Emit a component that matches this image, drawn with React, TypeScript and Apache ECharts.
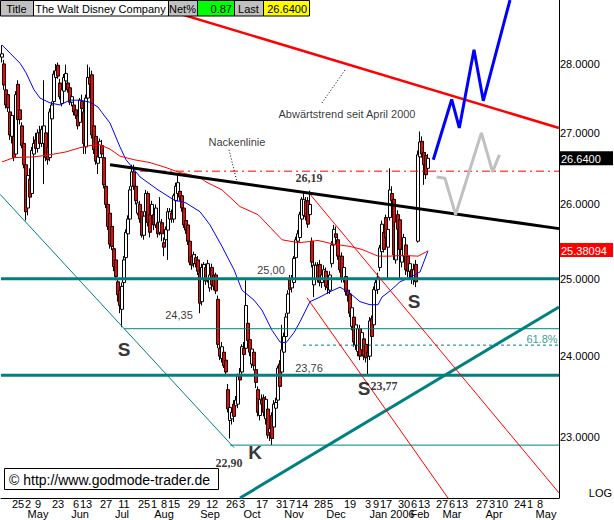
import React, { useEffect, useRef } from "react";
import * as echarts from "echarts";

const SANS = '"Liberation Sans", Arial, sans-serif';
const SERIF = '"Liberation Serif", "Times New Roman", serif';

const TITLE = "The Walt Disney Company";
const NET_PCT = "0.87";
const LAST_PRICE = 26.64;
const MA_LAST = 25.38094;

const FIRST_DAY = "2005-04-13";
const LAST_DAY = "2006-05-19";
const HOLIDAYS = ["2005-05-30", "2005-07-04", "2005-09-05", "2005-11-24", "2005-12-26", "2006-01-02", "2006-01-16", "2006-02-20", "2006-04-14"];

// [open, close, low, high]
const CANDLES: number[][] = [
  [28.10,28.15,28.02,28.28],[28.00,27.69,27.62,28.06],[27.62,27.40,27.35,27.70],[27.55,27.36,27.30,27.60],[27.30,26.97,26.90,27.36],
  [26.95,27.25,26.85,27.30],[26.95,26.65,26.60,27.05],[26.70,27.55,26.65,27.60],[27.70,27.19,27.15,27.76],[27.33,27.19,27.12,27.40],
  [27.10,26.82,26.78,27.15],[26.85,26.55,26.50,26.95],[26.55,25.90,25.78,26.62],[25.95,26.40,25.85,26.45],[26.35,26.10,26.05,26.50],
  [26.15,26.75,26.10,26.80],[26.70,26.85,26.60,26.95],[26.90,26.78,26.70,27.00],[26.78,27.00,26.72,27.05],[27.00,26.85,26.80,27.10],
  [26.85,27.05,26.80,27.10],[26.85,27.10,26.28,27.76],[27.00,26.65,26.60,27.05],[26.80,26.62,26.55,26.90],[26.65,27.30,26.60,27.35],
  [27.20,27.40,27.10,27.45],[27.45,27.85,27.40,27.90],[27.80,27.90,27.70,28.00],[27.98,27.82,27.78,28.02],[27.72,27.52,27.48,27.78],
  [27.42,27.62,27.38,27.66],[27.60,27.80,27.55,27.85],[27.75,27.86,27.70,27.99],[27.72,27.62,27.58,27.78],[27.65,27.44,27.40,27.70],
  [27.44,27.52,27.38,27.56],[27.40,27.30,27.25,27.45],[27.33,27.25,27.20,27.38],[27.25,27.10,27.05,27.30],[27.15,27.47,27.10,27.50],
  [27.45,27.35,27.30,27.55],[27.30,26.85,26.70,27.35],[26.80,27.50,26.70,27.55],[27.50,27.80,27.45,27.99],[27.80,27.70,27.60,27.95],
  [27.84,26.97,26.92,27.90],[27.10,26.76,26.70,27.15],[26.95,26.60,26.55,27.00],[26.57,26.66,26.42,26.70],[26.65,26.88,26.60,26.92],
  [26.82,26.70,26.65,26.90],[26.65,26.27,26.22,26.70],[26.25,26.00,25.95,26.30],[26.00,25.70,25.65,26.05],[25.88,25.46,25.40,25.92],
  [25.70,25.43,25.38,25.75],[25.40,25.16,25.10,25.45],[25.25,25.03,24.98,25.30],[24.96,24.79,24.70,25.00],[24.85,24.65,24.55,24.90],
  [24.60,24.90,24.37,24.95],[24.95,25.25,24.85,25.30],[25.28,25.62,25.22,25.66],[25.60,25.80,25.55,25.85],[25.80,26.20,25.75,26.25],
  [26.25,26.45,26.20,26.55],[26.45,26.25,26.20,26.55],[26.25,26.05,26.00,26.30],[25.88,26.02,25.85,26.08],[26.00,25.80,25.75,26.05],
  [25.90,25.58,25.55,25.95],[25.58,25.84,25.52,25.88],[25.90,26.15,25.80,26.20],[26.15,25.75,25.70,26.18],[25.86,25.62,25.55,25.90],
  [25.85,26.00,25.80,26.05],[25.86,25.72,25.65,25.92],[25.72,25.95,25.68,26.00],[25.75,25.60,25.55,25.80],[25.62,25.76,25.58,26.10],
  [25.75,25.60,25.50,25.80],[25.48,25.42,25.30,25.55],[25.52,25.66,25.45,25.70],[25.65,25.90,25.25,25.95],[25.80,25.90,25.75,25.95],
  [25.88,25.80,25.75,25.93],[25.80,26.12,25.75,26.15],[26.05,26.25,26.00,26.30],[26.15,26.30,26.05,26.42],[26.18,26.10,26.05,26.25],
  [26.12,25.95,25.90,26.18],[25.95,25.72,25.68,25.98],[25.78,25.65,25.60,25.85],[25.72,25.50,25.45,25.78],[25.50,25.22,25.18,25.55],
  [25.30,25.18,25.12,25.36],[25.20,25.32,25.15,25.36],[25.28,25.20,25.15,25.33],[25.25,25.10,25.05,25.30],[25.08,24.68,24.55,25.12],
  [24.70,25.15,24.65,25.20],[25.00,25.19,24.95,25.22],[25.15,24.97,24.92,25.20],[25.00,25.20,24.95,25.25],[24.88,25.05,24.83,25.10],
  [25.15,24.92,24.85,25.20],[25.05,24.90,24.85,25.10],[25.05,24.84,24.80,25.08],[24.73,24.15,24.10,24.78],[24.10,24.00,23.95,24.15],
  [23.97,24.12,23.92,24.18],[24.05,23.88,23.85,24.10],[23.95,23.80,23.75,24.00],[23.58,23.34,23.30,23.65],[23.20,23.36,22.98,23.40],
  [23.22,23.30,23.15,23.35],[23.40,23.25,23.18,23.45],[23.38,23.45,23.30,23.50],[23.40,23.75,23.35,23.78],[23.75,23.70,23.62,23.85],
  [23.80,24.12,23.75,24.15],[24.10,24.02,23.98,24.18],[24.10,24.65,24.05,24.98],[24.42,24.20,24.15,24.60],[24.21,24.05,24.00,24.25],
  [23.90,24.09,23.85,24.12],[24.05,23.88,23.82,24.08],[23.83,23.67,23.60,23.88],[23.58,23.30,23.25,23.62],[23.26,23.46,23.20,23.50],
  [23.45,23.40,23.32,23.52],[23.48,23.30,23.25,23.52],[23.22,23.46,23.15,23.50],[23.34,23.02,22.98,23.38],[23.05,23.10,22.95,23.18],
  [23.26,22.98,22.90,23.30],[23.12,23.40,23.05,23.45],[23.35,23.42,23.28,23.48],[23.45,23.85,23.40,23.88],[23.90,23.62,23.55,23.95],
  [23.80,24.08,23.75,24.40],[24.05,24.25,24.00,24.30],[24.25,24.50,24.20,24.55],[24.55,24.80,24.50,24.85],[24.99,24.86,24.80,25.05],
  [24.88,25.00,24.82,25.05],[24.95,25.27,24.90,25.30],[25.28,25.52,25.22,25.56],[25.50,25.60,25.42,25.65],[25.55,25.86,25.50,25.90],
  [25.80,26.07,25.75,26.10],[25.85,26.07,25.80,26.18],[26.05,25.83,25.78,26.10],[26.05,25.73,25.68,26.10],[25.86,26.00,25.80,26.19],
  [25.50,25.22,25.15,25.55],[24.92,25.18,24.76,25.22],[25.00,25.18,24.95,25.22],[25.18,25.00,24.95,25.22],[25.19,24.95,24.90,25.25],
  [24.95,25.05,24.88,25.10],[25.00,25.12,24.95,25.18],[25.10,24.90,24.85,25.15],[24.92,24.88,24.80,25.00],[24.85,25.05,24.80,25.10],
  [25.20,25.45,25.15,25.50],[25.45,25.66,25.40,25.72],[25.60,25.55,25.48,25.70],[25.52,25.30,25.25,25.58],[25.30,25.12,25.08,25.35],
  [25.30,25.00,24.95,25.35],[25.00,25.15,24.95,25.20],[25.03,24.83,24.78,25.08],[24.85,24.78,24.70,24.90],[24.80,24.55,24.50,24.85],
  [24.38,24.62,24.33,24.65],[24.50,24.18,24.12,24.55],[24.14,24.40,24.08,24.45],[24.06,24.35,24.00,24.40],[24.35,24.00,23.95,24.40],
  [24.08,24.30,24.02,24.35],[24.22,24.00,23.95,24.28],[24.15,23.98,23.92,24.20],[24.05,24.00,23.77,24.10],[24.00,24.45,23.95,24.50],
  [24.48,24.25,24.18,24.52],[24.40,24.86,24.35,24.90],[24.85,24.95,24.78,25.00],[24.86,25.02,24.80,25.08],[25.15,25.41,25.10,25.45],
  [25.36,25.73,25.30,25.78],[25.62,25.39,25.35,25.68],[25.82,25.55,25.50,25.86],[25.42,25.66,24.99,25.70],[25.82,26.20,25.78,26.50],
  [26.15,26.05,25.95,26.25],[26.07,25.32,25.25,26.15],[25.25,25.76,25.20,25.80],[25.86,25.66,25.60,25.92],[25.79,25.39,24.99,25.85],
  [25.22,25.39,25.15,25.45],[25.30,25.55,25.25,25.60],[25.45,25.12,25.05,25.50],[25.30,25.10,25.02,25.35],[25.10,25.20,25.00,25.28],
  [25.12,24.99,24.93,25.18],[24.99,25.12,24.92,25.20],[25.19,24.96,24.89,25.25],[25.50,26.69,25.48,26.75],[26.66,26.87,26.60,27.02],
  [26.88,26.70,26.65,26.95],[26.72,26.55,26.27,26.78],[26.68,26.41,26.35,26.72],[26.50,26.64,26.45,26.70],
];

// moving averages: [trading-day index, price]
const BLUE_MA: number[][] = [
  [0,28.28],[4,28.16],[9,28.01],[12,27.87],[16,27.62],[19,27.50],[24,27.43],[29,27.40],[34,27.47],[39,27.47],[44,27.44],[48,27.37],
  [50,27.29],[54,27.14],[59,26.80],[62,26.62],[69,26.38],[78,26.20],[86,26.06],[92,26.02],[99,25.90],[104,25.72],[110,25.43],
  [116,25.12],[120,24.85],[126,24.72],[130,24.59],[135,24.33],[139,24.18],[142,24.17],[146,24.30],[149,24.44],[154,24.70],
  [159,24.76],[164,24.83],[169,24.89],[174,24.81],[179,24.70],[184,24.66],[188,24.66],[190,24.76],[194,24.84],[199,24.96],
  [204,25.02],[209,25.09],[213,25.37],
];
const RED_MA: number[][] = [
  [0,26.59],[6,26.65],[16,26.66],[24,26.69],[32,26.73],[39,26.79],[44,26.82],[49,26.83],[54,26.77],[59,26.67],[66,26.62],
  [74,26.58],[82,26.51],[89,26.44],[94,26.41],[99,26.37],[102,26.31],[110,26.20],[119,25.97],[128,25.86],[134,25.69],
  [140,25.52],[148,25.48],[152,25.49],[158,25.51],[166,25.46],[174,25.43],[180,25.39],[188,25.30],[194,25.30],[200,25.31],
  [208,25.30],[213,25.37],
];

// drawn trend lines: [trading-day index, price]
const DOWNTREND_2000 = [[66, 28.96], [278.5, 27.07]];
const NECKLINE = [[54, 26.55], [278.5, 25.67]];
const RISING_SUPPORT = [[119, 22.27], [278.5, 24.63]];
const TEAL_CHANNEL = [[-1, 26.14], [116, 22.87]];
const RED_CHANNEL_UPPER = [[154, 26.14], [278.5, 22.33]];
const RED_CHANNEL_LOWER = [[152.5, 24.75], [223, 22.27]];
const BLUE_SCENARIO = [[215.65, 26.62], [224.85, 27.48], [228.65, 27.07], [236, 28.21], [240.65, 27.46], [254, 28.96]];
const GRAY_SCENARIO = [[217.3, 26.38], [221.5, 26.36], [226.8, 25.86], [239.7, 27.0], [245.3, 26.45], [248.7, 26.69]];
const LEADER_NECK = [[113.5, 26.76], [117.5, 26.31]];
const LEADER_TREND = [[160, 27.43], [171.5, 27.91]];
// horizontal levels: price, start index, width, dashed
const LEVEL_PRICES = [25.0, 23.76, 24.35, 22.9, 24.14];
const LEVEL_STARTS = [-0.5, -0.5, 61, 114, 150.5];
const LEVEL_WIDTHS = [3, 3, 1, 1, 1];
const LEVEL_DASHED = [false, false, false, false, true];
const LAST_REF_LEVEL = 26.46;
const LAST_REF_START = 69;

const DAY_LABELS = [
  "2005-04-25","2005-05-02","2005-05-09","2005-05-23","2005-06-06","2005-06-13","2005-06-27","2005-07-11","2005-07-25",
  "2005-08-01","2005-08-08","2005-08-15","2005-08-29","2005-09-12","2005-09-26","2005-10-03","2005-10-17","2005-10-31",
  "2005-11-07","2005-11-14","2005-11-28","2005-12-05","2005-12-19","2006-01-03","2006-01-09","2006-01-17","2006-01-30",
  "2006-02-06","2006-02-13","2006-02-27","2006-03-06","2006-03-13","2006-03-27","2006-04-03","2006-04-10","2006-04-24",
  "2006-05-01","2006-05-08",
];
const MONTH_DATES = ["2005-05-09","2005-06-08","2005-07-08","2005-08-08","2005-09-09","2005-10-10","2005-11-08","2005-12-08","2006-02-09","2006-01-20","2006-03-06","2006-04-04","2006-05-11"];
const MONTH_NAMES = ["May","Jun","Jul","Aug","Sep","Oct","Nov","Dec","Feb","Jan 2006","Mar","Apr","May"];

const PRICE_TICKS = [23, 24, 25, 26, 27, 28];
const PRICE_MIN = 22.27;
const PRICE_MAX = 28.96;

const ANN_TEXT = ["Nackenlinie","Abwärtstrend seit April 2000","26,19","25,00","24,35","23,76","22,90","23,77","S","K","S","S","61.8%"];
const ANN_POS = [[117.5,26.87],[172.5,27.27],[153.5,26.37],[134.5,25.11],[88.5,24.53],[153.5,23.85],[113.5,22.69],[191,23.62],[61,24.09],[126.5,22.81],[181,23.6],[206,24.7],[270,24.22]];
const ANN_KIND = ["n","n","b","n","n","n","b","b","L","L","L","L","t"];

function buildDays(): string[] {
  const out: string[] = [];
  const d = new Date(FIRST_DAY + "T00:00:00Z");
  const end = new Date(LAST_DAY + "T00:00:00Z");
  while (d.getTime() <= end.getTime()) {
    const wd = d.getUTCDay();
    const s = d.toISOString().slice(0, 10);
    if (wd !== 0 && wd !== 6 && HOLIDAYS.indexOf(s) < 0) out.push(s);
    d.setUTCDate(d.getUTCDate() + 1);
  }
  return out;
}

export default function App() {
  const ref = useRef<HTMLDivElement>(null);
  useEffect(() => {
    document.body.style.margin = "0";
    if (!ref.current) return;
    const chart = echarts.init(ref.current, null, { renderer: "svg" });
    const days = buildDays();
    const xMax = days.length - 0.5;
    const daySet = new Set(DAY_LABELS);
    const monthMap = new Map<string, string>();
    MONTH_DATES.forEach((d, i) => monthMap.set(d, MONTH_NAMES[i]));
    const L = Math.log;
    const toLn = (pts: number[][]) => pts.map((p) => [p[0], L(p[1])]);
    const line = (pts: number[][], color: string, width: number, type: any = "solid", z = 4) => ({
      type: "line", xAxisIndex: 2, yAxisIndex: 0, data: toLn(pts), symbol: "none", silent: true, z,
      lineStyle: { color, width, type }, animation: false,
    });
    const series: any[] = [
      {
        type: "candlestick", xAxisIndex: 0, yAxisIndex: 0, z: 2, silent: true, barWidth: 4,
        data: CANDLES.map((c) => [L(c[0]), L(c[1]), L(c[2]), L(c[3])]),
        itemStyle: { color: "#ffffff", color0: "#ff0000", borderColor: "#000000", borderColor0: "#000000", borderWidth: 1 },
      },
      line(BLUE_MA, "#0000ff", 1, "solid", 3),
      line(RED_MA, "#ff0000", 1, "solid", 3),
    ];
    LEVEL_PRICES.forEach((p, i) => {
      series.push(line([[LEVEL_STARTS[i], p], [xMax, p]], "#008080", LEVEL_WIDTHS[i], LEVEL_DASHED[i] ? [3, 3] : "solid"));
    });
    series.push(line([[LAST_REF_START, LAST_REF_LEVEL], [xMax, LAST_REF_LEVEL]], "#ff0000", 1, [8, 4, 2, 4]));
    series.push(line(TEAL_CHANNEL, "#008080", 1));
    series.push(line(RISING_SUPPORT, "#008080", 3));
    series.push(line(RED_CHANNEL_UPPER, "#ff0000", 1));
    series.push(line(RED_CHANNEL_LOWER, "#ff0000", 1));
    series.push(line(NECKLINE, "#000000", 3));
    series.push(line(DOWNTREND_2000, "#ff0000", 2.5));
    series.push(line(GRAY_SCENARIO, "#c0c0c0", 3));
    series.push(line(BLUE_SCENARIO, "#0000ff", 3));
    series.push(line(LEADER_NECK, "#000000", 1, [1, 2]));
    series.push(line(LEADER_TREND, "#000000", 1, [1, 2]));
    series.push({
      type: "scatter", xAxisIndex: 2, yAxisIndex: 0, z: 6, silent: true, symbolSize: 1,
      itemStyle: { color: "rgba(0,0,0,0)" },
      label: { show: true, position: "inside" },
      data: ANN_TEXT.map((t, i) => {
        const k = ANN_KIND[i];
        const style: any =
          k === "L" ? { fontSize: 19, fontWeight: "bold", fontFamily: SANS, color: "#000" }
          : k === "b" ? { fontSize: 12, fontWeight: "bold", fontFamily: SERIF, color: "#000" }
          : k === "t" ? { fontSize: 11, fontFamily: SANS, color: "#008080" }
          : { fontSize: 11, fontFamily: SANS, color: "#000" };
        return { value: [ANN_POS[i][0], L(ANN_POS[i][1])], label: { show: true, position: "inside", formatter: t, ...style } };
      }),
    });

    const headerCells = [
      { x0: 0, x1: 33, fill: "#c0c0c0", text: "Title", right: false },
      { x0: 33, x1: 168, fill: "#ffffff", text: TITLE, right: false },
      { x0: 168, x1: 197, fill: "#c0c0c0", text: "Net%", right: false },
      { x0: 197, x1: 234, fill: "#00ff00", text: NET_PCT, right: true },
      { x0: 234, x1: 263, fill: "#c0c0c0", text: "Last", right: false },
      { x0: 263, x1: 309, fill: "#ffff00", text: LAST_PRICE.toFixed(4), right: true },
    ];
    const graphic: any[] = [];
    headerCells.forEach((c) => {
      graphic.push({ type: "rect", z: 100, shape: { x: c.x0 + 0.5, y: 0.5, width: c.x1 - c.x0, height: 15.5 }, style: { fill: c.fill, stroke: "#000", lineWidth: 1 } });
      graphic.push({ type: "text", z: 101, style: { text: c.text, x: c.right ? c.x1 - 2 : (c.x0 + c.x1) / 2, y: 8.5, align: c.right ? "right" : "center", textAlign: c.right ? "right" : "center", verticalAlign: "middle", textVerticalAlign: "middle", fontSize: 11, fontFamily: SANS, fill: "#000" } });
    });
    graphic.push({ type: "rect", z: 100, shape: { x: 4.5, y: 468.5, width: 214, height: 21 }, style: { fill: "#fff", stroke: "#000", lineWidth: 1 } });
    graphic.push({ type: "text", z: 101, style: { text: "© http://www.godmode-trader.de", x: 9, y: 479.5, align: "left", textAlign: "left", verticalAlign: "middle", textVerticalAlign: "middle", fontSize: 14, fontFamily: SANS, fill: "#000" } });
    graphic.push({ type: "text", z: 101, style: { text: "LOG", x: 612, y: 493, align: "right", textAlign: "right", verticalAlign: "middle", textVerticalAlign: "middle", fontSize: 11, fontFamily: SANS, fill: "#000" } });

    const option: any = {
      animation: false,
      backgroundColor: "#ffffff",
      grid: { left: 1, right: 55, top: 0, bottom: 22, containLabel: false, outerBoundsMode: "none" },
      xAxis: [
        {
          type: "category", gridIndex: 0, data: days, position: "bottom", boundaryGap: true,
          axisLine: { show: true, onZero: false, lineStyle: { color: "#000", width: 1 } },
          axisTick: { show: false }, splitLine: { show: false },
          axisLabel: {
            interval: (_i: number, v: string) => daySet.has(v),
            formatter: (v: string) => String(Number(v.slice(8))),
            color: "#000", fontSize: 11, lineHeight: 10, fontFamily: SANS, margin: 1, hideOverlap: false,
          },
        },
        {
          type: "category", gridIndex: 0, data: days, position: "bottom", boundaryGap: true,
          axisLine: { show: false, onZero: false }, axisTick: { show: false }, splitLine: { show: false },
          axisLabel: {
            interval: (_i: number, v: string) => monthMap.has(v),
            formatter: (v: string) => monthMap.get(v) || "",
            color: "#000", fontSize: 11, lineHeight: 10, fontFamily: SANS, margin: 11, hideOverlap: false,
          },
        },
        { type: "value", gridIndex: 0, min: -0.5, max: xMax, show: false, position: "top" },
      ],
      yAxis: [
        {
          type: "value", gridIndex: 0, position: "right", min: L(PRICE_MIN), max: L(PRICE_MAX),
          axisLine: { show: true, onZero: false, lineStyle: { color: "#000", width: 1 } },
          axisTick: { show: false }, splitLine: { show: false },
          axisLabel: {
            customValues: [...PRICE_TICKS, LAST_PRICE, MA_LAST].map(L),
            formatter: (val: number) => {
              const p = Math.exp(val);
              if (Math.abs(p - LAST_PRICE) < 1e-4) return "{last|" + LAST_PRICE.toFixed(4) + "}";
              if (Math.abs(p - MA_LAST) < 1e-4) return "{ma|" + MA_LAST.toFixed(5) + "}";
              return p.toFixed(4);
            },
            color: "#000", fontSize: 11, fontFamily: SANS, margin: 1,
            rich: {
              last: { backgroundColor: "#000", color: "#fff", width: 52, height: 13, padding: [1, 0, 0, 1], fontSize: 11, fontFamily: SANS },
              ma: { backgroundColor: "#ff0000", color: "#fff", width: 52, height: 13, padding: [1, 0, 0, 1], fontSize: 11, fontFamily: SANS, borderColor: "#ff0000" },
            },
          },
        },
      ],
      series,
      graphic,
    };
    chart.setOption(option);
    return () => chart.dispose();
  }, []);
  return <div ref={ref} style={{ position: "absolute", left: 0, top: 0, width: 614, height: 520, background: "#fff" }} />;
}
